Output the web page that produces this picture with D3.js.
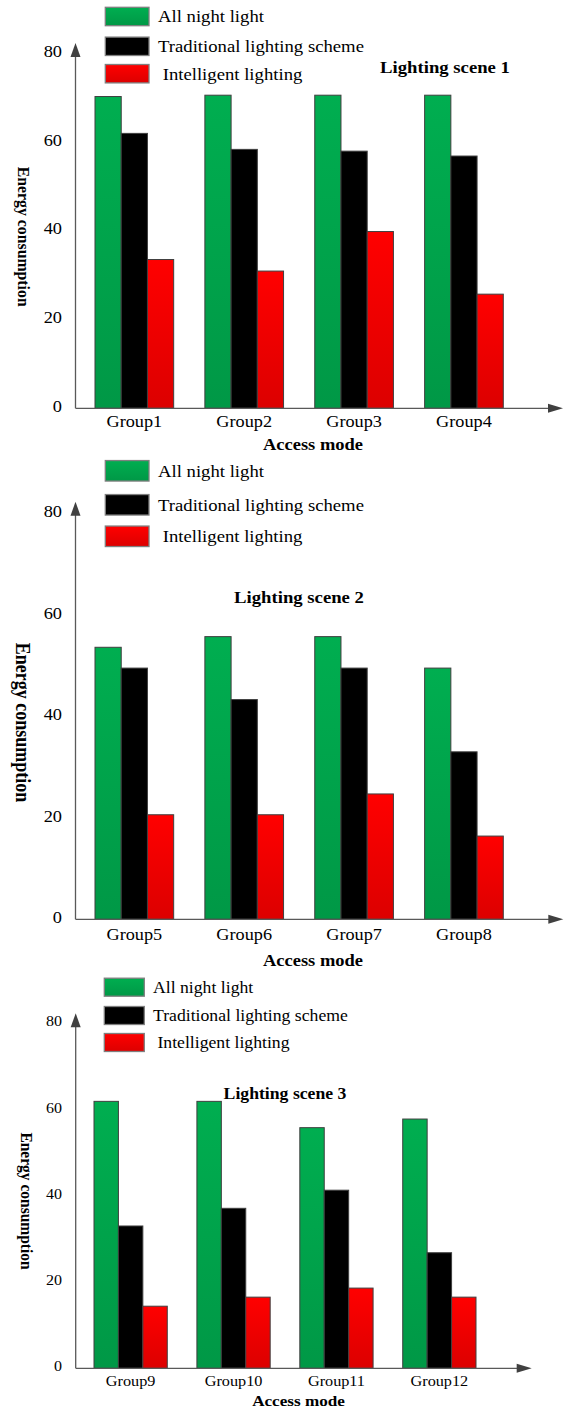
<!DOCTYPE html>
<html><head><meta charset="utf-8">
<script src="https://cdn.jsdelivr.net/npm/d3@7"></script>
<style>
html,body{margin:0;padding:0;background:#fff;}
svg{display:block;}
text{white-space:pre;}
</style></head>
<body><svg id="chart" width="565" height="1411"></svg>
<script>
// ---------- data ----------
const seriesNames = ["All night light", "Traditional lighting scheme", " Intelligent lighting"];
const yTicks = [0, 20, 40, 60, 80];
const yMax = 80;
const titles = ["Lighting scene 1", "Lighting scene 2", "Lighting scene 3"];
const xTitle = "Access mode";
const yTitle = "Energy consumption";

const groups1 = ["Group1", "Group2", "Group3", "Group4"];
const allNight1 = [70.2, 70.5, 70.5, 70.5];
const traditional1 = [61.9, 58.3, 57.9, 56.8];
const intelligent1 = [33.5, 30.9, 39.8, 25.7];

const groups2 = ["Group5", "Group6", "Group7", "Group8"];
const allNight2 = [53.6, 55.7, 55.7, 49.5];
const traditional2 = [49.5, 43.3, 49.5, 33.0];
const intelligent2 = [20.6, 20.6, 24.7, 16.4];

const groups3 = ["Group9", "Group10", "Group11", "Group12"];
const allNight3 = [61.9, 61.9, 55.8, 57.8];
const traditional3 = [33.0, 37.1, 41.3, 26.8];
const intelligent3 = [14.4, 16.5, 18.6, 16.5];

// ---------- layout ----------
const FONT = "Liberation Serif, Times New Roman, serif";
const SX = 1.12; // horizontal stretch of the reference lettering
const layouts = [
  {axisX:75.5, yTop:53, base:408.3, arrowY:43, arrowX:563, band:[95,503.3], padIn:0.284,
   legX:105.3, legW:43.7, legH:18.4, legY:[16.5,46.3,73.7], legTextX:158, fLeg:16.7,
   fTick:16.4, tickRight:62, fGroup:16.3, groupDy:13.4,
   title:[445,66.7], fTitle:16.7, yLab:[23.8,236.7], fYLab:15.8, xLab:[313,444], fXLab:16.5},
  {axisX:75.5, yTop:513.3, base:919.3, arrowY:501.7, arrowX:563.3, band:[95,503.3], padIn:0.284,
   legX:105.3, legW:43.7, legH:20.5, legY:[470.8,504.8,536.3], legTextX:158, fLeg:16.7,
   fTick:16.4, tickRight:62, fGroup:16.3, groupDy:15,
   title:[299,596.7], fTitle:16.7, yLab:[23,722.5], fYLab:18, xLab:[313,960], fXLab:16.5},
  {axisX:75.7, yTop:1023.3, base:1368.3, arrowY:1013.3, arrowX:531.7, band:[94,476], padIn:0.288,
   legX:104.3, legW:40, legH:18, legY:[987.2,1015.5,1042.5], legTextX:153, fLeg:15.8,
   fTick:14.3, tickRight:62, fGroup:14.5, groupDy:12.4,
   title:[285,1093.3], fTitle:15.8, yLab:[27.5,1201], fYLab:15.5, xLab:[298.5,1401], fXLab:15.3}
];
const panels = [
  {groups:groups1, series:[allNight1, traditional1, intelligent1], title:titles[0]},
  {groups:groups2, series:[allNight2, traditional2, intelligent2], title:titles[1]},
  {groups:groups3, series:[allNight3, traditional3, intelligent3], title:titles[2]}
];

const svg = d3.select("#chart");
const defs = svg.append("defs");
function grad(id, top, bottom) {
  const g = defs.append("linearGradient").attr("id", id)
    .attr("x1", 0).attr("y1", 0).attr("x2", 0).attr("y2", 1);
  g.append("stop").attr("offset", "0%").attr("stop-color", top);
  g.append("stop").attr("offset", "100%").attr("stop-color", bottom);
}
grad("gGreen", "#00ae50", "#009846");
grad("gBlack", "#000000", "#000000");
grad("gRed", "#ff0000", "#dc0000");
const fills = ["url(#gGreen)", "url(#gBlack)", "url(#gRed)"];

function addText(parent, x, y, str, size, opts = {}) {
  const g = parent.append("g")
    .attr("transform", `translate(${x},${y}) scale(${SX},1)` + (opts.rotate ? ` rotate(${opts.rotate})` : ""));
  return g.append("text")
    .attr("text-anchor", opts.anchor || "start")
    .attr("dy", "0.35em")
    .style("font-family", FONT)
    .style("font-size", size + "px")
    .style("font-weight", opts.bold ? "bold" : "normal")
    .attr("fill", "#000")
    .text(str);
}

panels.forEach((p, pi) => {
  const L = layouts[pi];
  const g = svg.append("g");
  const y = d3.scaleLinear().domain([0, yMax]).range([L.base, L.yTop]);
  const x0 = d3.scaleBand().domain(p.groups).range(L.band).paddingInner(L.padIn).paddingOuter(0);
  const x1 = d3.scaleBand().domain(d3.range(seriesNames.length)).range([0, x0.bandwidth()]);

  // bars
  p.groups.forEach((grp, gi) => {
    g.selectAll(null).data(p.series.map((s, si) => ({si, v: s[gi]}))).join("rect")
      .attr("x", d => x0(grp) + x1(d.si))
      .attr("width", x1.bandwidth())
      .attr("y", d => y(d.v))
      .attr("height", d => L.base - y(d.v))
      .attr("fill", d => fills[d.si])
      .attr("stroke", "#3f3f3f")
      .attr("stroke-width", 1);
  });

  // axes lines with arrows
  const axisCol = "#595959";
  g.append("line").attr("x1", L.axisX).attr("x2", L.axisX)
    .attr("y1", L.base).attr("y2", L.arrowY + 12)
    .attr("stroke", axisCol).attr("stroke-width", 1.3);
  g.append("line").attr("x1", L.axisX).attr("x2", L.arrowX - 13)
    .attr("y1", L.base).attr("y2", L.base)
    .attr("stroke", axisCol).attr("stroke-width", 1.3);
  g.append("path")
    .attr("d", `M${L.axisX},${L.arrowY} L${L.axisX - 5},${L.arrowY + 14} L${L.axisX + 5},${L.arrowY + 14} Z`)
    .attr("fill", "#404040");
  g.append("path")
    .attr("d", `M${L.arrowX},${L.base} L${L.arrowX - 15},${L.base - 4.5} L${L.arrowX - 15},${L.base + 4.5} Z`)
    .attr("fill", "#404040");

  // y tick labels
  const ya = g.append("g").attr("transform", `translate(${L.axisX},0)`)
    .call(d3.axisLeft(y).tickValues(yTicks).tickSize(0).tickPadding(0));
  ya.select(".domain").remove();
  ya.selectAll("text")
    .attr("x", (L.tickRight - L.axisX) / SX)
    .attr("y", -2)
    .attr("fill", "#000")
    .style("font-family", FONT)
    .style("font-size", L.fTick + "px")
    .attr("transform", `scale(${SX},1)`);

  // x group labels
  const xa = g.append("g").attr("transform", `translate(0,${L.base})`)
    .call(d3.axisBottom(x0).tickSize(0).tickPadding(0));
  xa.select(".domain").remove();
  xa.selectAll("text")
    .attr("y", L.groupDy).attr("dy", "0.35em")
    .attr("fill", "#000")
    .style("font-family", FONT)
    .style("font-size", L.fGroup + "px")
    .attr("transform", `scale(${SX},1)`);

  // legend
  seriesNames.forEach((name, si) => {
    g.append("rect")
      .attr("x", L.legX).attr("y", L.legY[si] - L.legH / 2)
      .attr("width", L.legW).attr("height", L.legH)
      .attr("fill", fills[si]).attr("stroke", "#7f7f7f").attr("stroke-width", 1.3);
    addText(g, L.legTextX, L.legY[si], name, L.fLeg);
  });

  // titles
  addText(g, L.title[0], L.title[1], p.title, L.fTitle, {anchor: "middle", bold: true});
  addText(g, L.xLab[0], L.xLab[1], xTitle, L.fXLab, {anchor: "middle", bold: true});
  addText(g, L.yLab[0], L.yLab[1], yTitle, L.fYLab, {anchor: "middle", bold: true, rotate: 90});
});
</script>
</body></html>
